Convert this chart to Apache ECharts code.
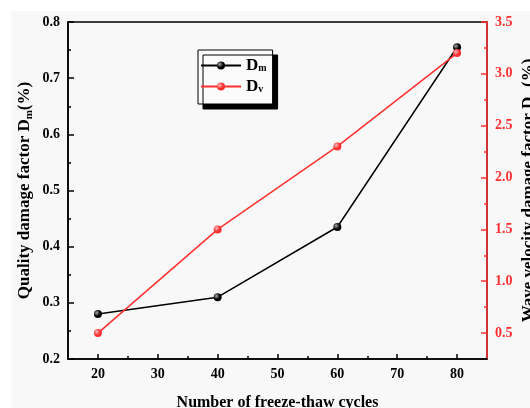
<!DOCTYPE html>
<html><head><meta charset="utf-8">
<script src="https://cdn.jsdelivr.net/npm/echarts@6/dist/echarts.min.js"></script>
<style>html,body{margin:0;padding:0;background:#fff}#c{width:530px;height:408px}</style>
</head><body><div id="c"></div>
<script>
const cycles = [20, 40, 60, 80];
const dm = [0.28, 0.31, 0.435, 0.755];
const dv = [0.5, 1.5, 2.3, 3.2];
const xLabels = [20, 30, 40, 50, 60, 70, 80];
const xMinor = [25, 35, 45, 55, 65, 75];
const rightLabels = [0.5, 1.0, 1.5, 2.0, 2.5, 3.0, 3.5];
const rightMinor = [0.75, 1.25, 1.75, 2.25, 2.75, 3.25];

const FONT = "'Liberation Serif', 'Times New Roman', serif";
const RED = '#ff3030';
const BLACK = '#000';

function sphere(base, hi) {
  return new echarts.graphic.RadialGradient(0.35, 0.35, 0.75, [
    { offset: 0, color: hi }, { offset: 0.55, color: base }, { offset: 1, color: base }
  ]);
}
const lbl = { fontFamily: FONT, fontWeight: 'bold', fontSize: 14 };
const nameRich = (col) => ({
  a: { fontFamily: FONT, fontWeight: 'bold', fontSize: 17, color: col, lineHeight: 20 },
  s: { fontFamily: FONT, fontWeight: 'bold', fontSize: 11, color: col, lineHeight: 10, verticalAlign: 'bottom' }
});

const chart = echarts.init(document.getElementById('c'), null, { renderer: 'canvas' });
chart.setOption({
  animation: false,
  backgroundColor: '#fff',
  graphic: [{ type: 'rect', z: -10, shape: { x: 11, y: 11, width: 519, height: 397 }, style: { fill: '#f8f8f8' } }],
  grid: { left: 68, right: 43, top: 22, bottom: 49, containLabel: false, outerBoundsMode: 'none',
    show: true, borderColor: BLACK, borderWidth: 1.5, backgroundColor: 'transparent' },
  legend: {
    orient: 'vertical', left: 198, top: 50,
    itemWidth: 40, itemHeight: 10, itemGap: 4,
    padding: [7, 6, 9, 2],
    backgroundColor: '#fbfbfb', borderColor: BLACK, borderWidth: 1,
    shadowColor: '#000', shadowOffsetX: 5, shadowOffsetY: 5, shadowBlur: 0,
    data: ['Dm', 'Dv'],
    formatter: n => n === 'Dm' ? '{a|D}{s|m}' : '{a|D}{s|v}',
    textStyle: {
      rich: {
        a: { fontFamily: FONT, fontWeight: 'bold', fontSize: 17, color: '#000', lineHeight: 16 },
        s: { fontFamily: FONT, fontWeight: 'bold', fontSize: 10, color: '#000', lineHeight: 8, verticalAlign: 'bottom' }
      }
    }
  },
  xAxis: [{
    type: 'value', min: 15, max: 85, interval: 5,
    axisLine: { lineStyle: { color: BLACK, width: 1.5 } },
    axisTick: { inside: true, length: 5, customValues: xLabels, lineStyle: { color: BLACK, width: 1.5 } },
    axisLabel: Object.assign({ customValues: xLabels, color: '#000', margin: 8 }, lbl),
    splitLine: { show: false },
    name: 'Number of freeze-thaw cycles', nameLocation: 'middle', nameGap: 36, nameMoveOverlap: false,
    nameTextStyle: { fontFamily: FONT, fontWeight: 'bold', fontSize: 16, color: '#000' }
  }, {
    type: 'value', min: 15, max: 85, interval: 5, position: 'bottom',
    axisLine: { show: false },
    axisTick: { inside: true, length: 3, customValues: xMinor, lineStyle: { color: BLACK, width: 1.5 } },
    axisLabel: { show: false }, splitLine: { show: false }
  }],
  yAxis: [{
    type: 'value', min: 0.2, max: 0.8, interval: 0.1, position: 'left',
    axisLine: { show: true, lineStyle: { color: BLACK, width: 1.5 } },
    axisTick: { show: true, inside: true, length: 6, lineStyle: { color: BLACK, width: 1.5 } },
    minorTick: { show: true, splitNumber: 2, length: 3, lineStyle: { color: BLACK, width: 1.5 } },
    axisLabel: Object.assign({ color: '#000', margin: 8, formatter: v => v.toFixed(1) }, lbl),
    splitLine: { show: false },
    name: '{a|Quality damage factor D}{s|m}{a|(%)}', nameLocation: 'middle', nameGap: 33, nameRotate: 90,
    nameMoveOverlap: false,
    nameTextStyle: { rich: nameRich('#000') }
  }, {
    type: 'value', min: 0.25, max: 3.5, position: 'right',
    axisLine: { show: true, lineStyle: { color: RED, width: 1.5 } },
    axisTick: { show: true, inside: true, length: 6, customValues: rightLabels, lineStyle: { color: RED, width: 1.5 } },
    axisLabel: Object.assign({ customValues: rightLabels, color: RED, margin: 8, formatter: v => v.toFixed(1) }, lbl),
    splitLine: { show: false },
    name: '{a|Wave velocity damage factor D}{s|v}{a| (%)}', nameLocation: 'middle', nameGap: 32, nameRotate: 90,
    nameMoveOverlap: false,
    nameTextStyle: { rich: nameRich('#000') }
  }, {
    type: 'value', min: 0.25, max: 3.5, position: 'right',
    axisLine: { show: false },
    axisTick: { show: true, inside: true, length: 3, customValues: rightMinor, lineStyle: { color: RED, width: 1.5 } },
    axisLabel: { show: false }, splitLine: { show: false }
  }],
  series: [{
    name: 'Dm', type: 'line', xAxisIndex: 0, yAxisIndex: 0,
    data: cycles.map((c, i) => [c, dm[i]]),
    symbol: 'circle', symbolSize: 8,
    lineStyle: { color: BLACK, width: 1.5 },
    itemStyle: { color: sphere('#000', '#aaa') }
  }, {
    name: 'Dv', type: 'line', xAxisIndex: 0, yAxisIndex: 1,
    data: cycles.map((c, i) => [c, dv[i]]),
    symbol: 'circle', symbolSize: 8,
    lineStyle: { color: RED, width: 1.5 },
    itemStyle: { color: sphere(RED, '#ffc0c0') }
  }]
});
</script></body></html>
